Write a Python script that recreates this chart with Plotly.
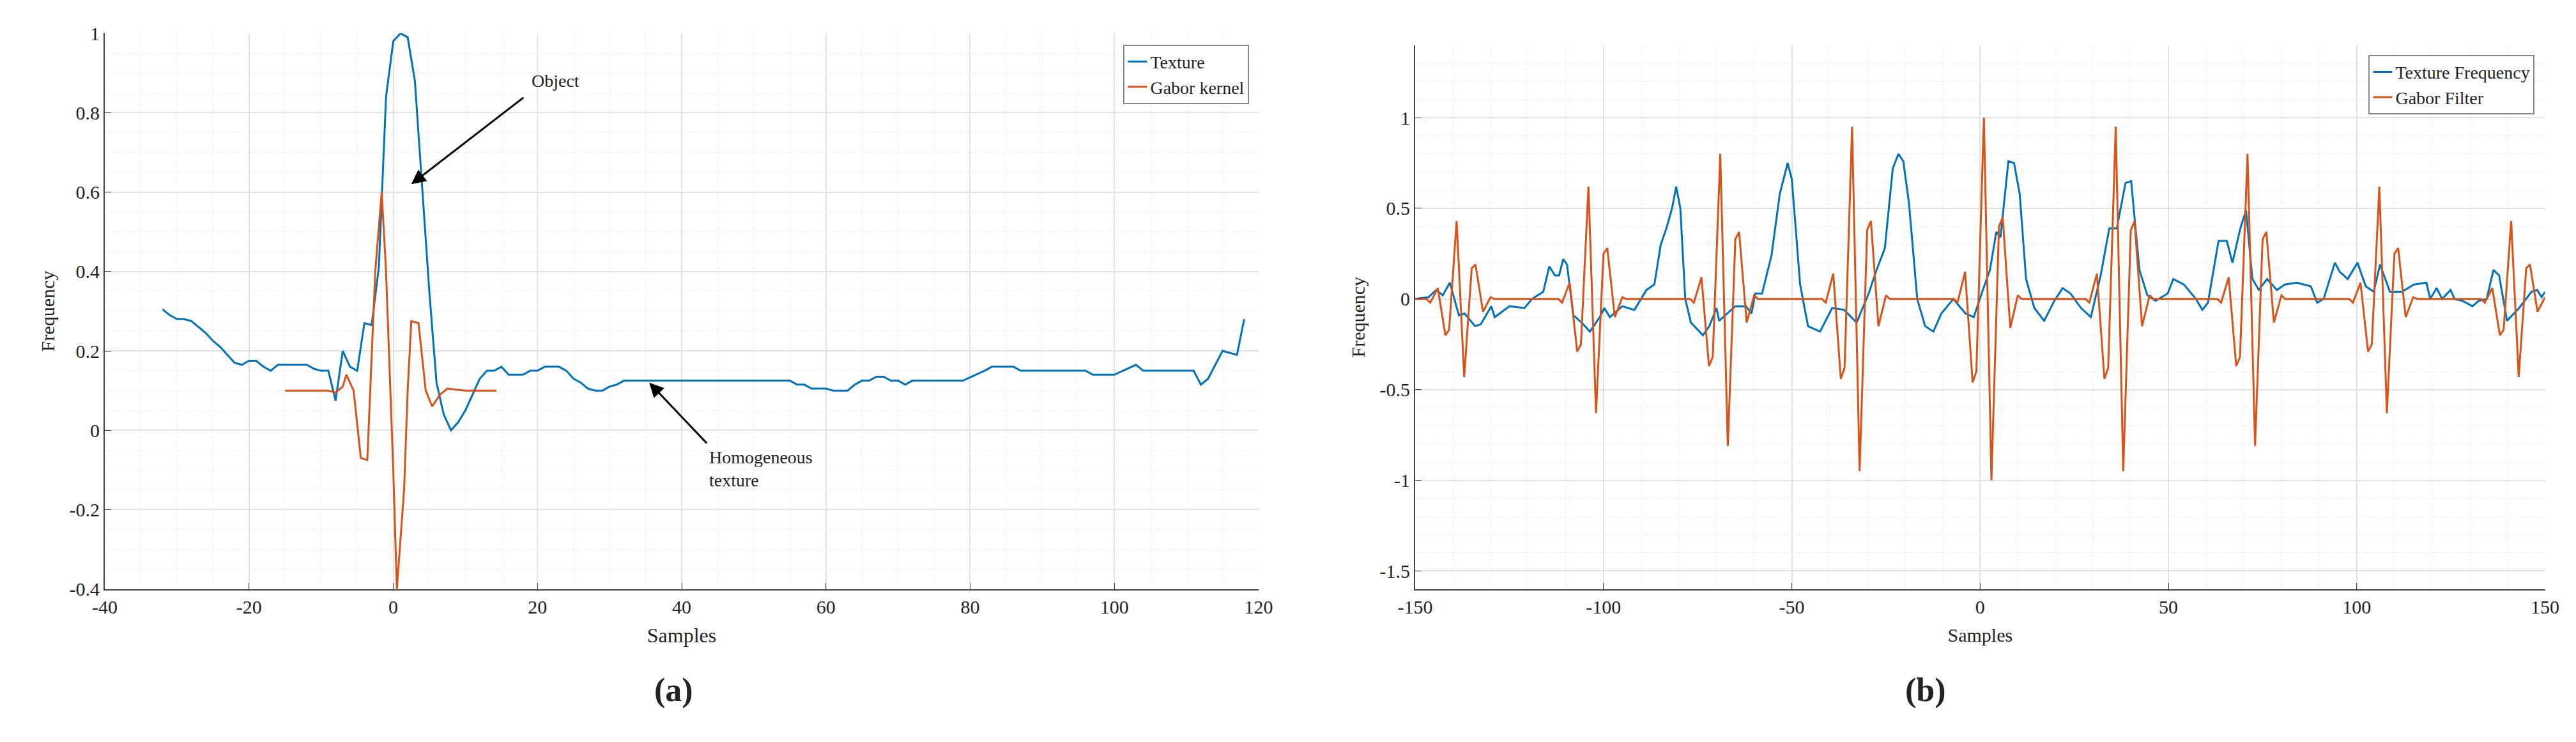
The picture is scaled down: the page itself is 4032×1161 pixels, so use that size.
"""
Texture vs Gabor kernel / filter, two panels
"""

import plotly.graph_objects as go

# ---- panel (a) data
tex_x = [-32, -31, -30, -29, -28, -27, -26, -25, -24, -23, -22, -21, -20, -19, -18, -17, -16, -15, -12, -11,
         -10, -9, -8, -7, -6, -5, -4, -3, -2, -1, 0, 1, 2, 3, 4, 5, 6, 7, 8, 9,
         10, 11, 12, 13, 14, 15, 16, 17, 18, 19, 20, 21, 22, 23, 24, 25, 26, 27, 28, 29,
         30, 31, 32, 55, 56, 57, 58, 60, 61, 63, 64, 65, 66, 67, 68, 69, 70, 71, 72, 79,
         82, 83, 86, 87, 96, 97, 100, 103, 104, 110, 111, 112, 113, 115, 117, 118]
tex_y = [0.305, 0.29, 0.28, 0.28, 0.275, 0.26, 0.245, 0.225, 0.21, 0.19, 0.17, 0.165, 0.175, 0.175, 0.16, 0.15, 0.165, 0.165, 0.165, 0.155,
         0.15, 0.15, 0.075, 0.2, 0.16, 0.15, 0.27, 0.265, 0.41, 0.84, 0.98, 1.0, 0.99, 0.88, 0.62, 0.35, 0.12, 0.04, 0.0, 0.02,
         0.05, 0.09, 0.13, 0.15, 0.15, 0.16, 0.14, 0.14, 0.14, 0.15, 0.15, 0.16, 0.16, 0.16, 0.15, 0.13, 0.12, 0.105, 0.1, 0.1,
         0.11, 0.115, 0.125, 0.125, 0.115, 0.115, 0.105, 0.105, 0.1, 0.1, 0.115, 0.125, 0.125, 0.135, 0.135, 0.125, 0.125, 0.115, 0.125, 0.125,
         0.15, 0.16, 0.16, 0.15, 0.15, 0.14, 0.14, 0.165, 0.15, 0.15, 0.15, 0.115, 0.13, 0.2, 0.19, 0.28]

ker_x = [-15, -10, -9, -8, -7, -6.5, -5.5, -4.5, -3.6, -2.5, -1.6, -1, 0, 0.5, 1.5, 2, 2.5, 3.5, 4.5, 5.4, 6.5, 7.5, 10, 14.3]
ker_y = [0.1, 0.1, 0.1, 0.095, 0.11, 0.14, 0.1, -0.07, -0.075, 0.4, 0.6, 0.4, -0.1, -0.4, -0.15, 0.1, 0.275, 0.27, 0.1, 0.06, 0.09, 0.105, 0.1, 0.1]

# ---- panel (b) data
freq_x = [-150, -146.5, -144.4, -142.7, -140.8, -138.4, -136.9, -134.1, -132.6, -129.8, -128.9, -125, -121, -119, -116, -114.4,
          -112.9, -111.8, -110.7, -109.7, -108, -105.8, -103.6, -101, -99.8, -98.3, -95, -91.8, -88.6, -86.5, -84.8, -83.3,
          -81.8, -80.7, -79.6, -78.3, -76.8, -73.6, -71.9, -70, -69.3, -65, -62.2, -60.7, -59.7, -57.9, -55.4, -53.2,
          -51.1, -50, -47.8, -45.7, -42.5, -39.3, -36.1, -32.8, -29.6, -27.5, -25.3, -23.2, -21.7, -20.4, -18.9, -16.7,
          -14.6, -12.4, -10.3, -7.1, -3.9, -1.7, 0.4, 2.6, 4.3, 5.4, 7.5, 9, 10.5, 12.2, 14.4, 17,
          19.7, 21.9, 24, 26.8, 29.4, 32, 34.3, 36.3, 38.6, 40.1, 42.3, 44.4, 46.6, 49.8, 51.3, 54.1,
          57.3, 59, 60.5, 63.3, 65.5, 67, 69.1, 70.6, 72.3, 74, 76.2, 78.8, 80.9, 84.1, 87.8, 89.5,
          91.2, 94.2, 95.5, 97.6, 100.2, 102.4, 104.5, 106.2, 108.8, 112, 115.2, 118.5, 119.5, 121.2, 122.7, 124.9,
          126, 128.1, 130.7, 132.4, 134.5, 136.3, 137.8, 139.9, 143.1, 146.4, 147.9, 149.1, 150]
freq_y = [0, 0.01, 0.05, 0.02, 0.09, -0.09, -0.08, -0.15, -0.14, -0.04, -0.1, -0.04, -0.05, 0, 0.04, 0.18,
          0.13, 0.13, 0.22, 0.19, -0.09, -0.13, -0.18, -0.1, -0.05, -0.1, -0.04, -0.06, 0.05, 0.08, 0.3, 0.39,
          0.5, 0.62, 0.5, 0, -0.13, -0.2, -0.15, -0.05, -0.12, -0.04, -0.04, -0.08, 0.03, 0.03, 0.24, 0.58,
          0.75, 0.66, 0.08, -0.15, -0.18, -0.05, -0.06, -0.13, 0.03, 0.16, 0.28, 0.72, 0.8, 0.76, 0.53, 0,
          -0.15, -0.18, -0.08, 0, -0.08, -0.1, 0.03, 0.16, 0.37, 0.34, 0.76, 0.75, 0.58, 0.11, -0.05, -0.12,
          -0.01, 0.06, 0.03, -0.05, -0.1, 0.13, 0.39, 0.39, 0.64, 0.65, 0.16, 0.02, -0.01, 0.03, 0.11, 0.08,
          0, -0.06, -0.02, 0.32, 0.32, 0.2, 0.39, 0.49, 0.11, 0.05, 0.11, 0.05, 0.08, 0.09, 0.07, -0.02,
          0, 0.2, 0.15, 0.11, 0.2, 0.07, 0.04, 0.19, 0.04, 0.04, 0.08, 0.09, 0, 0.06, 0, 0.05,
          0, -0.01, -0.04, -0.01, 0, 0.16, 0.13, -0.12, -0.05, 0.04, 0.05, 0.01, 0.04]

gab_x = [-150, -147, -146, -144, -142, -141, -139, -137, -135, -134, -132, -130, -129,
         -112, -111, -109, -107, -106, -104, -102, -100, -99, -97, -95, -94,
         -77, -76, -74, -72, -71, -69, -67, -65, -64, -62, -60, -59,
         -42, -41, -39, -37, -36, -34, -32, -30, -29, -27, -25, -24,
         -7, -6, -4, -2, -1, 1, 3, 5, 6, 8, 10, 11,
         28, 29, 31, 33, 34, 36, 38, 40, 41, 43, 45, 46,
         63, 64, 66, 68, 69, 71, 73, 75, 76, 78, 80, 81,
         98, 99, 101, 103, 104, 106, 108, 110, 111, 113, 115, 116,
         133, 134, 136, 138, 139, 141, 143, 145, 146, 148, 150]
gab_y = [0, 0, -0.02, 0.06, -0.2, -0.17, 0.43, -0.43, 0.17, 0.19, -0.07, 0.01, 0,
         0, -0.02, 0.09, -0.29, -0.25, 0.62, -0.63, 0.25, 0.28, -0.1, 0.01, 0,
         0, -0.02, 0.12, -0.37, -0.32, 0.8, -0.81, 0.33, 0.37, -0.13, 0.02, 0,
         0, -0.02, 0.14, -0.44, -0.38, 0.95, -0.95, 0.38, 0.43, -0.15, 0.02, 0,
         0, -0.02, 0.15, -0.46, -0.4, 1.0, -1.0, 0.4, 0.45, -0.16, 0.02, 0,
         0, -0.02, 0.14, -0.44, -0.38, 0.95, -0.95, 0.38, 0.43, -0.15, 0.02, 0,
         0, -0.02, 0.12, -0.37, -0.32, 0.8, -0.81, 0.33, 0.37, -0.13, 0.02, 0,
         0, -0.02, 0.09, -0.29, -0.25, 0.62, -0.63, 0.25, 0.28, -0.1, 0.01, 0,
         0, -0.02, 0.06, -0.2, -0.17, 0.43, -0.43, 0.17, 0.19, -0.07, 0.01]

# tick labels (hyphen minus, as in the original)
xa_ticks = [-40, -20, 0, 20, 40, 60, 80, 100, 120]
ya_ticks = [-0.4, -0.2, 0, 0.2, 0.4, 0.6, 0.8, 1]
xb_ticks = [-150, -100, -50, 0, 50, 100, 150]
yb_ticks = [-1.5, -1, -0.5, 0, 0.5, 1]

BLUE = "#0072BD"
ORANGE = "#D95319"
FONT = "Liberation Serif"

fig = go.Figure()
fig.add_trace(go.Scatter(x=tex_x, y=tex_y, mode="lines", name="Texture",
                         line=dict(color=BLUE, width=3), legend="legend"))
fig.add_trace(go.Scatter(x=ker_x, y=ker_y, mode="lines", name="Gabor kernel",
                         line=dict(color=ORANGE, width=3), legend="legend"))
fig.add_trace(go.Scatter(x=freq_x, y=freq_y, mode="lines", name="Texture Frequency",
                         line=dict(color=BLUE, width=3), xaxis="x2", yaxis="y2", legend="legend2"))
fig.add_trace(go.Scatter(x=gab_x, y=gab_y, mode="lines", name="Gabor Filter",
                         line=dict(color=ORANGE, width=3), xaxis="x2", yaxis="y2", legend="legend2"))

ax = dict(showline=True, linecolor="#444", linewidth=2, mirror=False, ticks="inside", ticklen=10,
          tickcolor="#444", gridcolor="#e2e2e2", gridwidth=1.5, zeroline=False, automargin=False,
          tickfont=dict(size=30, family=FONT, color="#222"),
          minor=dict(showgrid=True, gridcolor="#ececec", griddash="dot", gridwidth=1))


def labels(vals):
    return [str(v) for v in vals]


fig.update_layout(
    width=4032, height=1161, margin=dict(l=0, r=0, t=0, b=0),
    plot_bgcolor="white", paper_bgcolor="white", font=dict(family=FONT, color="#222"),
    xaxis=dict(ax, domain=[0.0387, 0.4866], range=[-40, 120], tickvals=xa_ticks, ticktext=labels(xa_ticks),
               minor=dict(ax["minor"], dtick=5),
               title=dict(text="Samples", font=dict(size=32), standoff=18)),
    yaxis=dict(ax, domain=[0.213, 0.962], range=[-0.4, 1], tickvals=ya_ticks, ticktext=labels(ya_ticks),
               minor=dict(ax["minor"], dtick=0.05),
               title=dict(text="Frequency", font=dict(size=30), standoff=14)),
    xaxis2=dict(ax, domain=[0.5474, 0.986], range=[-150, 150], tickvals=xb_ticks, ticktext=labels(xb_ticks),
                anchor="y2", minor=dict(ax["minor"], dtick=10),
                title=dict(text="Samples", font=dict(size=30), standoff=18)),
    yaxis2=dict(ax, domain=[0.213, 0.946], range=[-1.6, 1.4], tickvals=yb_ticks, ticktext=labels(yb_ticks),
                anchor="x2", minor=dict(ax["minor"], dtick=0.1),
                title=dict(text="Frequency", font=dict(size=30), standoff=14)),
    legend=dict(x=0.483, y=0.947, xanchor="right", yanchor="top", bgcolor="white",
                bordercolor="#888", borderwidth=2, font=dict(size=28, family=FONT)),
    legend2=dict(x=0.982, y=0.933, xanchor="right", yanchor="top", bgcolor="white",
                 bordercolor="#888", borderwidth=2, font=dict(size=28, family=FONT)),
    annotations=[
        dict(x=2.5, y=0.62, ax=18.2, ay=0.84, xref="x", yref="y", axref="x", ayref="y",
             showarrow=True, arrowhead=2, arrowsize=1.5, arrowwidth=3, arrowcolor="black", text=""),
        dict(x=19, y=0.88, xref="x", yref="y", text="Object", showarrow=False,
             xanchor="left", font=dict(size=28)),
        dict(x=35.5, y=0.12, ax=43.6, ay=-0.035, xref="x", yref="y", axref="x", ayref="y",
             showarrow=True, arrowhead=2, arrowsize=1.5, arrowwidth=3, arrowcolor="black", text=""),
        dict(x=43.6, y=-0.04, xref="x", yref="y", text="Homogeneous<br>texture", showarrow=False,
             xanchor="left", yanchor="top", align="left", font=dict(size=28)),
        dict(x=1014 / 4032, y=0.05, xref="paper", yref="paper", text="<b>(a)</b>", showarrow=False,
             font=dict(size=52)),
        dict(x=3040 / 4032, y=0.05, xref="paper", yref="paper", text="<b>(b)</b>", showarrow=False,
             font=dict(size=52)),
    ],
)

fig.write_html("out.html")
